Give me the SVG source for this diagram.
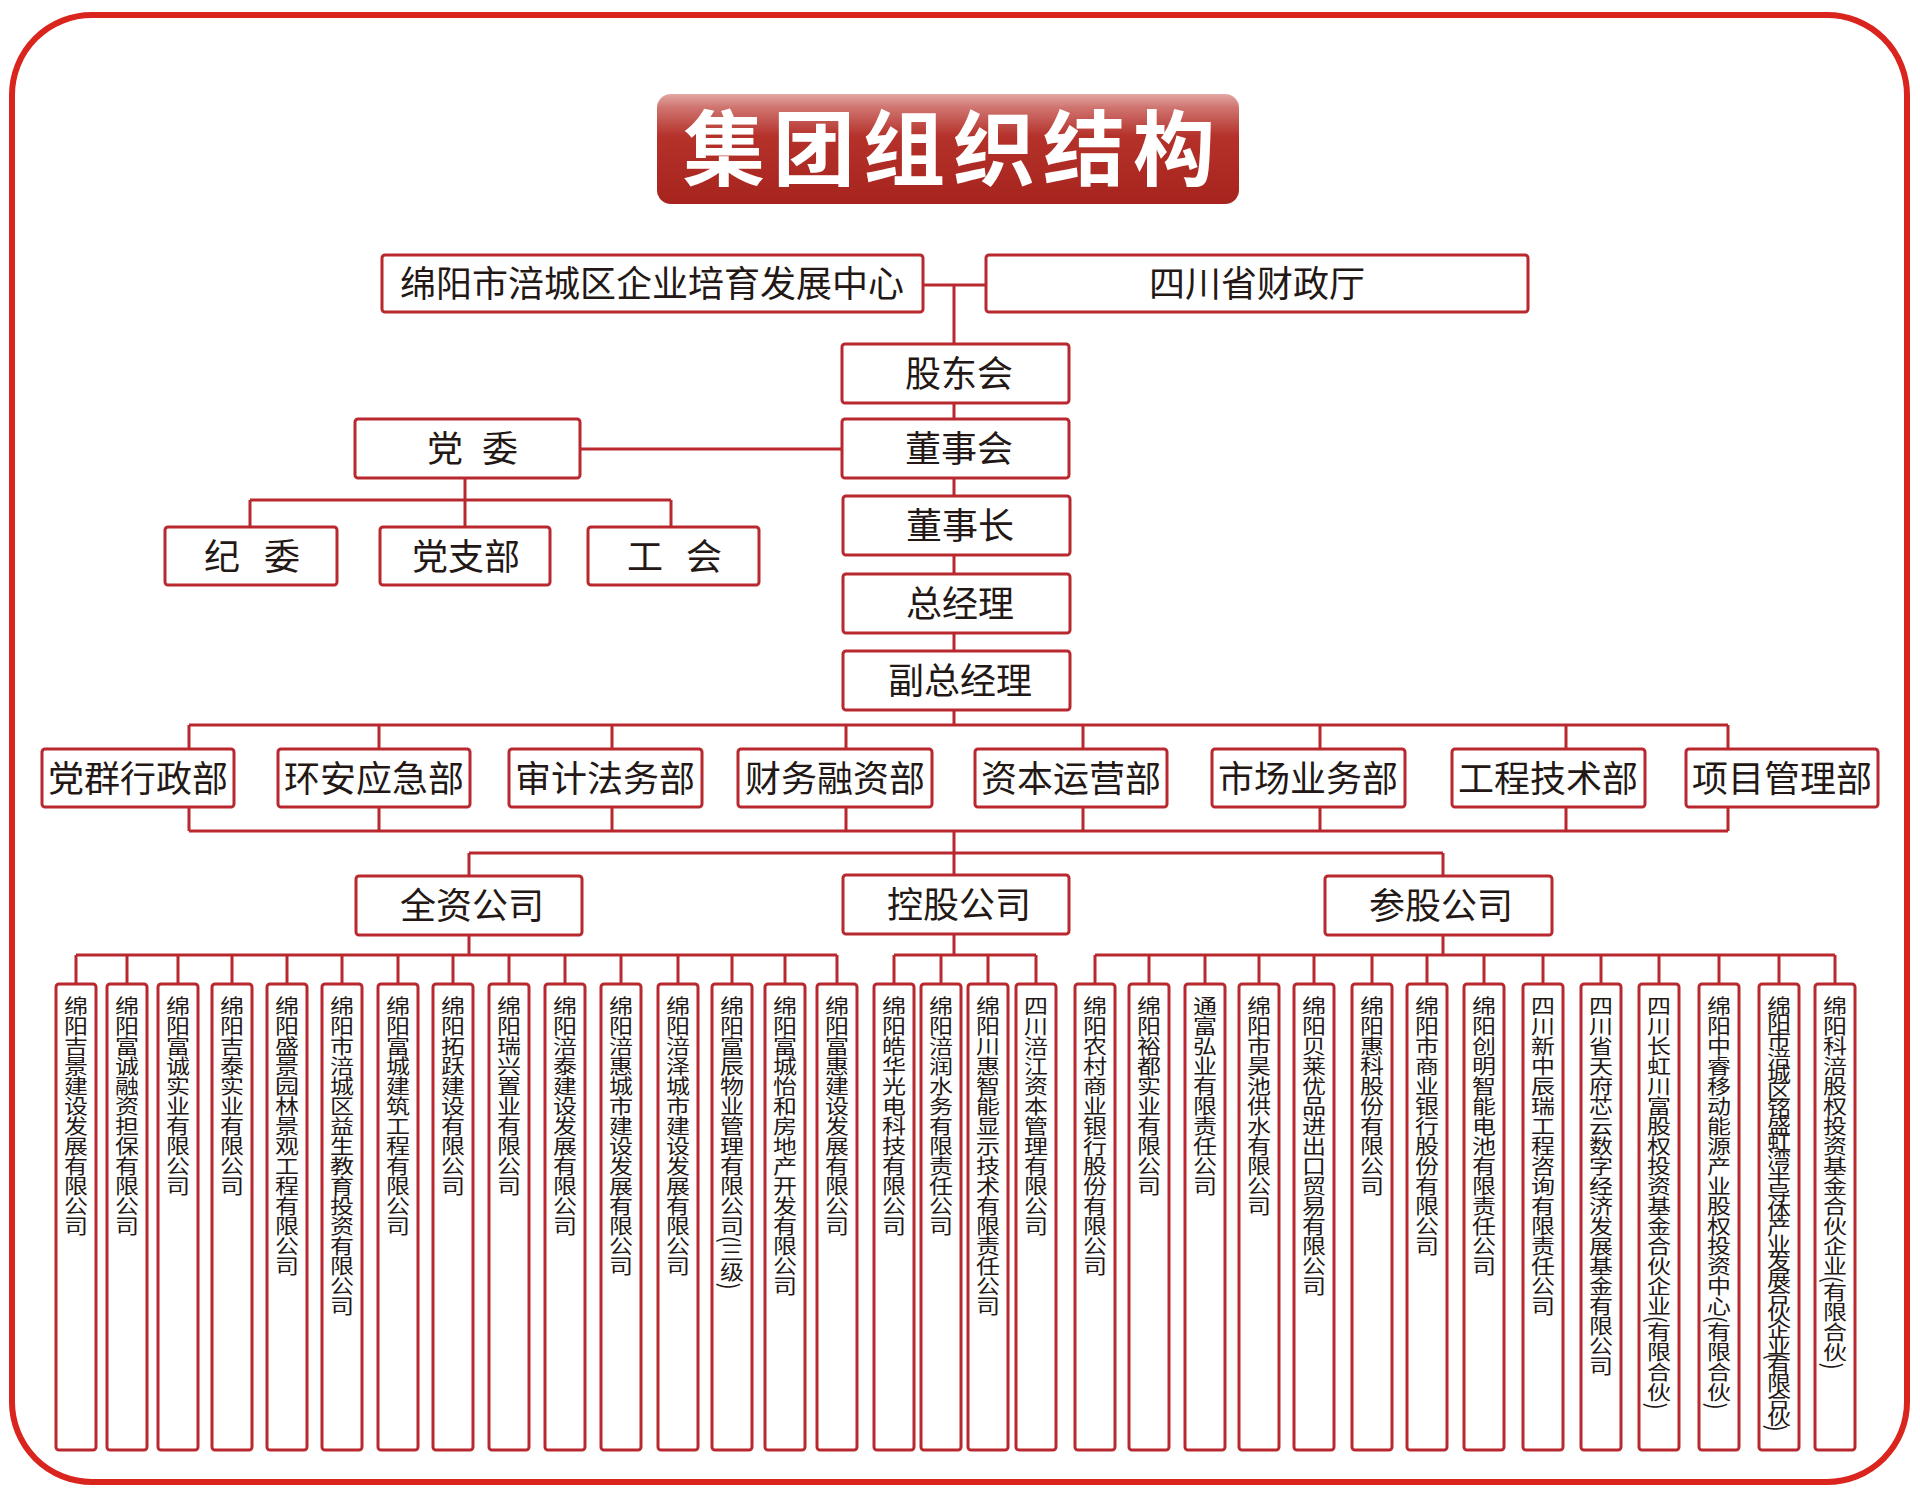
<svg xmlns="http://www.w3.org/2000/svg" width="1920" height="1503" viewBox="0 0 1920 1503">
<defs>
<linearGradient id="tg" x1="0" y1="0" x2="0" y2="1">
<stop offset="0" stop-color="#e3a7a3"/>
<stop offset="0.12" stop-color="#d07571"/>
<stop offset="0.38" stop-color="#b5322b"/>
<stop offset="1" stop-color="#a6241d"/>
</linearGradient>
<style>
.b{fill:#fff;stroke:#b8282e;stroke-width:3}
.c{fill:none;stroke:#b8282e;stroke-width:3}
.t{font-family:"Noto Sans CJK SC","Noto Sans CJK TC",sans-serif;font-size:36px;fill:#231815;text-anchor:middle}
.v{font-family:"Noto Sans CJK SC","Noto Sans CJK TC",sans-serif;font-size:20px;fill:#231815;writing-mode:vertical-rl}
.ttl{font-family:"Noto Sans CJK SC","Noto Sans CJK TC",sans-serif;font-size:82px;font-weight:700;fill:#fff;text-anchor:middle;letter-spacing:8px}
</style>
</defs>
<rect x="0" y="0" width="1920" height="1503" fill="#fff"/>
<rect id="frame" x="12" y="15" width="1895" height="1467" rx="80" ry="80" fill="none" stroke="#d9251d" stroke-width="6"/>
<g id="title">
<rect x="657" y="94" width="582" height="110" rx="14" ry="14" fill="url(#tg)"/>
<text class="ttl" x="953" y="179">集团组织结构</text>
</g>
<g id="connectors" class="c">
<path d="M923 285H986M954 285V725M580 449H842M465 478V500M250 500H671M250 500V527M465 500V527M671 500V527"/>
<path d="M189 725H1728M189 725V749M379 725V749M612 725V749M846 725V749M1083 725V749M1320 725V749M1566 725V749M1728 725V749"/>
<path d="M189 831H1728M189 807V831M379 807V831M612 807V831M846 807V831M1083 807V831M1320 807V831M1566 807V831M1728 807V831"/>
<path d="M954 831V853M469 853H1443M469 853V876M954 853V875M1443 853V876"/>
<path d="M469 935V955M76 955H837M76 955V984M127 955V984M178 955V984M232 955V984M287 955V984M342 955V984M398 955V984M453 955V984M509 955V984M565 955V984M621 955V984M678 955V984M732 955V984M785 955V984M837 955V984"/>
<path d="M954 934V955M894 955H1036M894 955V984M941 955V984M988 955V984M1036 955V984"/>
<path d="M1443 935V955M1095 955H1835M1095 955V984M1149 955V984M1205 955V984M1259 955V984M1314 955V984M1372 955V984M1427 955V984M1484 955V984M1543 955V984M1601 955V984M1659 955V984M1719 955V984M1779 955V984M1835 955V984"/>
</g>
<g id="n-center"><rect class="b" x="382" y="255" width="541" height="57" rx="3"/><text class="t" x="652" y="297">绵阳市涪城区企业培育发展中心</text></g>
<g id="n-finance"><rect class="b" x="986" y="255" width="542" height="57" rx="3"/><text class="t" x="1257" y="297">四川省财政厅</text></g>
<g id="n-gdh"><rect class="b" x="842" y="344" width="227" height="59" rx="3"/><text class="t" x="959" y="387">股东会</text></g>
<g id="n-dsh"><rect class="b" x="842" y="419" width="227" height="59" rx="3"/><text class="t" x="959" y="462">董事会</text></g>
<g id="n-dsz"><rect class="b" x="843" y="496" width="227" height="59" rx="3"/><text class="t" x="960" y="539">董事长</text></g>
<g id="n-zjl"><rect class="b" x="843" y="574" width="227" height="59" rx="3"/><text class="t" x="960" y="617">总经理</text></g>
<g id="n-fzjl"><rect class="b" x="843" y="651" width="227" height="59" rx="3"/><text class="t" x="960" y="694">副总经理</text></g>
<g id="n-dw"><rect class="b" x="355" y="419" width="225" height="59" rx="3"/><text class="t" x="445 500" y="462">党委</text></g>
<g id="n-jw"><rect class="b" x="165" y="527" width="172" height="58" rx="3"/><text class="t" x="222 282" y="570">纪委</text></g>
<g id="n-dzb"><rect class="b" x="380" y="527" width="170" height="58" rx="3"/><text class="t" x="466" y="570">党支部</text></g>
<g id="n-gh"><rect class="b" x="588" y="527" width="171" height="58" rx="3"/><text class="t" x="645 704" y="570">工会</text></g>
<g id="d1"><rect class="b" x="42" y="749" width="192" height="58" rx="3"/><text class="t" x="138" y="792">党群行政部</text></g>
<g id="d2"><rect class="b" x="278" y="749" width="192" height="58" rx="3"/><text class="t" x="374" y="792">环安应急部</text></g>
<g id="d3"><rect class="b" x="509" y="749" width="193" height="58" rx="3"/><text class="t" x="605" y="792">审计法务部</text></g>
<g id="d4"><rect class="b" x="738" y="749" width="194" height="58" rx="3"/><text class="t" x="835" y="792">财务融资部</text></g>
<g id="d5"><rect class="b" x="975" y="749" width="192" height="58" rx="3"/><text class="t" x="1071" y="792">资本运营部</text></g>
<g id="d6"><rect class="b" x="1212" y="749" width="193" height="58" rx="3"/><text class="t" x="1308" y="792">市场业务部</text></g>
<g id="d7"><rect class="b" x="1452" y="749" width="193" height="58" rx="3"/><text class="t" x="1548" y="792">工程技术部</text></g>
<g id="d8"><rect class="b" x="1686" y="749" width="192" height="58" rx="3"/><text class="t" x="1782" y="792">项目管理部</text></g>
<g id="g-qz"><rect class="b" x="356" y="876" width="226" height="59" rx="3"/><text class="t" x="472" y="919">全资公司</text></g>
<g id="g-kg"><rect class="b" x="843" y="875" width="226" height="59" rx="3"/><text class="t" x="959" y="918">控股公司</text></g>
<g id="g-cg"><rect class="b" x="1325" y="876" width="227" height="59" rx="3"/><text class="t" x="1441" y="919">参股公司</text></g>
<g id="s1"><rect class="b" x="56" y="984" width="40" height="466" rx="3"/><text class="v" transform="translate(76 0) scale(1.2 1)" x="0" y="996">绵阳吉景建设发展有限公司</text></g>
<g id="s2"><rect class="b" x="107" y="984" width="40" height="466" rx="3"/><text class="v" transform="translate(127 0) scale(1.2 1)" x="0" y="996">绵阳富诚融资担保有限公司</text></g>
<g id="s3"><rect class="b" x="158" y="984" width="40" height="466" rx="3"/><text class="v" transform="translate(178 0) scale(1.2 1)" x="0" y="996">绵阳富诚实业有限公司</text></g>
<g id="s4"><rect class="b" x="212" y="984" width="40" height="466" rx="3"/><text class="v" transform="translate(232 0) scale(1.2 1)" x="0" y="996">绵阳吉泰实业有限公司</text></g>
<g id="s5"><rect class="b" x="267" y="984" width="40" height="466" rx="3"/><text class="v" transform="translate(287 0) scale(1.2 1)" x="0" y="996">绵阳盛景园林景观工程有限公司</text></g>
<g id="s6"><rect class="b" x="322" y="984" width="40" height="466" rx="3"/><text class="v" transform="translate(342 0) scale(1.2 1)" x="0" y="996">绵阳市涪城区益生教育投资有限公司</text></g>
<g id="s7"><rect class="b" x="378" y="984" width="40" height="466" rx="3"/><text class="v" transform="translate(398 0) scale(1.2 1)" x="0" y="996">绵阳富城建筑工程有限公司</text></g>
<g id="s8"><rect class="b" x="433" y="984" width="40" height="466" rx="3"/><text class="v" transform="translate(453 0) scale(1.2 1)" x="0" y="996">绵阳拓跃建设有限公司</text></g>
<g id="s9"><rect class="b" x="489" y="984" width="40" height="466" rx="3"/><text class="v" transform="translate(509 0) scale(1.2 1)" x="0" y="996">绵阳瑞兴置业有限公司</text></g>
<g id="s10"><rect class="b" x="545" y="984" width="40" height="466" rx="3"/><text class="v" transform="translate(565 0) scale(1.2 1)" x="0" y="996">绵阳涪泰建设发展有限公司</text></g>
<g id="s11"><rect class="b" x="601" y="984" width="40" height="466" rx="3"/><text class="v" transform="translate(621 0) scale(1.2 1)" x="0" y="996">绵阳涪惠城市建设发展有限公司</text></g>
<g id="s12"><rect class="b" x="658" y="984" width="40" height="466" rx="3"/><text class="v" transform="translate(678 0) scale(1.2 1)" x="0" y="996">绵阳涪泽城市建设发展有限公司</text></g>
<g id="s13"><rect class="b" x="712" y="984" width="40" height="466" rx="3"/><text class="v" transform="translate(732 0) scale(1.2 1)" x="0" y="996">绵阳富辰物业管理有限公司(三级)</text></g>
<g id="s14"><rect class="b" x="765" y="984" width="40" height="466" rx="3"/><text class="v" transform="translate(785 0) scale(1.2 1)" x="0" y="996">绵阳富城怡和房地产开发有限公司</text></g>
<g id="s15"><rect class="b" x="817" y="984" width="40" height="466" rx="3"/><text class="v" transform="translate(837 0) scale(1.2 1)" x="0" y="996">绵阳富惠建设发展有限公司</text></g>
<g id="k1"><rect class="b" x="874" y="984" width="40" height="466" rx="3"/><text class="v" transform="translate(894 0) scale(1.2 1)" x="0" y="996">绵阳皓华光电科技有限公司</text></g>
<g id="k2"><rect class="b" x="921" y="984" width="40" height="466" rx="3"/><text class="v" transform="translate(941 0) scale(1.2 1)" x="0" y="996">绵阳涪润水务有限责任公司</text></g>
<g id="k3"><rect class="b" x="968" y="984" width="40" height="466" rx="3"/><text class="v" transform="translate(988 0) scale(1.2 1)" x="0" y="996">绵阳川惠智能显示技术有限责任公司</text></g>
<g id="k4"><rect class="b" x="1016" y="984" width="40" height="466" rx="3"/><text class="v" transform="translate(1036 0) scale(1.2 1)" x="0" y="996">四川涪江资本管理有限公司</text></g>
<g id="c1"><rect class="b" x="1075" y="984" width="40" height="466" rx="3"/><text class="v" transform="translate(1095 0) scale(1.2 1)" x="0" y="996">绵阳农村商业银行股份有限公司</text></g>
<g id="c2"><rect class="b" x="1129" y="984" width="40" height="466" rx="3"/><text class="v" transform="translate(1149 0) scale(1.2 1)" x="0" y="996">绵阳裕都实业有限公司</text></g>
<g id="c3"><rect class="b" x="1185" y="984" width="40" height="466" rx="3"/><text class="v" transform="translate(1205 0) scale(1.2 1)" x="0" y="996">通富弘业有限责任公司</text></g>
<g id="c4"><rect class="b" x="1239" y="984" width="40" height="466" rx="3"/><text class="v" transform="translate(1259 0) scale(1.2 1)" x="0" y="996">绵阳市昊池供水有限公司</text></g>
<g id="c5"><rect class="b" x="1294" y="984" width="40" height="466" rx="3"/><text class="v" transform="translate(1314 0) scale(1.2 1)" x="0" y="996">绵阳贝莱优品进出口贸易有限公司</text></g>
<g id="c6"><rect class="b" x="1352" y="984" width="40" height="466" rx="3"/><text class="v" transform="translate(1372 0) scale(1.2 1)" x="0" y="996">绵阳惠科股份有限公司</text></g>
<g id="c7"><rect class="b" x="1407" y="984" width="40" height="466" rx="3"/><text class="v" transform="translate(1427 0) scale(1.2 1)" x="0" y="996">绵阳市商业银行股份有限公司</text></g>
<g id="c8"><rect class="b" x="1464" y="984" width="40" height="466" rx="3"/><text class="v" transform="translate(1484 0) scale(1.2 1)" x="0" y="996">绵阳创明智能电池有限责任公司</text></g>
<g id="c9"><rect class="b" x="1523" y="984" width="40" height="466" rx="3"/><text class="v" transform="translate(1543 0) scale(1.2 1)" x="0" y="996">四川新中辰瑞工程咨询有限责任公司</text></g>
<g id="c10"><rect class="b" x="1581" y="984" width="40" height="466" rx="3"/><text class="v" transform="translate(1601 0) scale(1.2 1)" x="0" y="996">四川省天府芯云数字经济发展基金有限公司</text></g>
<g id="c11"><rect class="b" x="1639" y="984" width="40" height="466" rx="3"/><text class="v" transform="translate(1659 0) scale(1.2 1)" x="0" y="996">四川长虹川富股权投资基金合伙企业(有限合伙)</text></g>
<g id="c12"><rect class="b" x="1699" y="984" width="40" height="466" rx="3"/><text class="v" transform="translate(1719 0) scale(1.2 1)" x="0" y="996">绵阳中睿移动能源产业股权投资中心(有限合伙)</text></g>
<g id="c13"><rect class="b" x="1759" y="984" width="40" height="466" rx="3"/><text class="v" transform="translate(1779 0) scale(1.2 1)" x="0" y="996" style="letter-spacing:-3px">绵阳市涪城区铭盛虹湾半导体产业发展合伙企业(有限合伙)</text></g>
<g id="c14"><rect class="b" x="1815" y="984" width="40" height="466" rx="3"/><text class="v" transform="translate(1835 0) scale(1.2 1)" x="0" y="996">绵阳科涪股权投资基金合伙企业(有限合伙)</text></g>
</svg>
